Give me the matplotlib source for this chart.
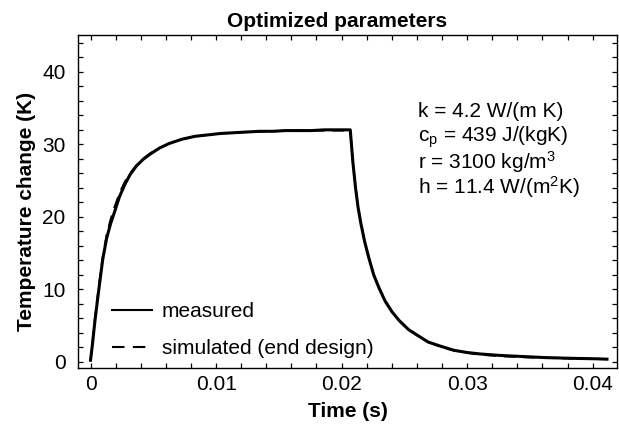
import matplotlib
matplotlib.use("Agg")
import matplotlib.pyplot as plt
from matplotlib.lines import Line2D
from matplotlib.ticker import MultipleLocator

# measured temperature change (heating then cooling)
time_meas = [0.0, 0.00014, 0.00025, 0.00035, 0.00056, 0.00076, 0.00097,
             0.00128, 0.00159, 0.00190, 0.00231, 0.00272, 0.00314, 0.00365,
             0.00417, 0.00479, 0.00551, 0.00624, 0.00727, 0.00830, 0.00933,
             0.01037, 0.01140, 0.01243, 0.01346, 0.01450, 0.01553, 0.01656,
             0.01760, 0.01863, 0.01966, 0.02069,
             0.02090, 0.02111, 0.02131, 0.02152, 0.02183, 0.02214, 0.02255,
             0.02297, 0.02348, 0.02400, 0.02462, 0.02534, 0.02606, 0.02689,
             0.02792, 0.02896, 0.02999, 0.03102, 0.03257, 0.03412, 0.03618,
             0.03825, 0.04031, 0.04114]
temp_meas = [0.2, 2.2, 4.0, 5.6, 8.6, 11.3, 14.1,
             17.0, 19.0, 20.6, 22.8, 24.4, 25.8, 27.0,
             27.9, 28.7, 29.5, 30.1, 30.7, 31.1, 31.3,
             31.5, 31.6, 31.7, 31.8, 31.8, 31.9, 31.9,
             31.9, 32.0, 32.0, 32.0,
             27.5, 24.0, 21.3, 19.2, 16.6, 14.5, 12.0,
             10.2, 8.3, 6.9, 5.6, 4.4, 3.6, 2.7,
             2.1, 1.55, 1.25, 1.05, 0.85, 0.72, 0.55,
             0.45, 0.38, 0.33]

# simulated (end design), nearly on top of the measurement
time_sim = [0.0, 0.00014, 0.00025, 0.00035, 0.00056, 0.00076, 0.00097,
            0.00128, 0.00159, 0.00190, 0.00231, 0.00272, 0.00314, 0.00365,
            0.00417, 0.00479, 0.00551, 0.00624, 0.00727, 0.00830, 0.00933,
            0.01037, 0.01243, 0.01450, 0.01656, 0.01863, 0.02069,
            0.02090, 0.02111, 0.02131, 0.02152, 0.02183, 0.02214, 0.02255,
            0.02297, 0.02348, 0.02400, 0.02462, 0.02534, 0.02606, 0.02689,
            0.02792, 0.02896, 0.02999, 0.03102, 0.03257, 0.03412, 0.03618,
            0.03825, 0.04031, 0.04114]
temp_sim = [0.0, 2.4, 4.3, 6.0, 9.0, 11.8, 14.5,
            17.5, 19.6, 21.3, 23.3, 24.8, 26.0, 27.1,
            28.0, 28.8, 29.5, 30.1, 30.7, 31.1, 31.3,
            31.5, 31.7, 31.8, 31.9, 31.9, 31.9,
            27.4, 24.0, 21.4, 19.3, 16.7, 14.6, 12.1,
            10.3, 8.4, 7.0, 5.6, 4.5, 3.6, 2.7,
            2.0, 1.5, 1.2, 0.95, 0.75, 0.62, 0.5,
            0.42, 0.36, 0.33]

params = ["k = 4.2 W/(m K)",
          "c$_{\\mathregular{p}}$ = 439 J/(kgK)",
          "r = 3100 kg/m$^{\\mathregular{3}}$",
          "h = 11.4 W/(m$^{\\mathregular{2}}$K)"]

plt.rcParams["font.family"] = ["Liberation Sans", "DejaVu Sans"]
plt.rcParams["mathtext.default"] = "regular"

FS = 15

fig = plt.figure(figsize=(6.19, 4.32), dpi=100)
ax = fig.add_axes([0.126, 0.148, 0.871, 0.771])

ax.plot(time_sim, temp_sim, color="black", lw=1.4, dashes=(6, 4))
ax.plot(time_meas, temp_meas, color="black", lw=2.2)

ax.set_xlim(-0.001, 0.04195)
ax.set_ylim(-0.9, 45.1)
ax.xaxis.set_major_locator(MultipleLocator(0.01))
ax.xaxis.set_minor_locator(MultipleLocator(0.002))
ax.yaxis.set_major_locator(MultipleLocator(10))
ax.yaxis.set_minor_locator(MultipleLocator(2))
ax.xaxis.set_major_formatter(plt.FuncFormatter(lambda v, p: f"{v:g}"))
ax.tick_params(which="both", direction="in", top=True, right=True,
               length=3.5, width=0.9, labelsize=FS)
ax.tick_params(axis="x", pad=5)
ax.tick_params(axis="y", pad=9)
for sp in ax.spines.values():
    sp.set_linewidth(1.0)

ax.set_xlabel("Time (s)", fontsize=FS, fontweight="bold", labelpad=6)
ax.set_ylabel("Temperature change (K)", fontsize=FS, fontweight="bold")
ax.yaxis.set_label_coords(-0.078, 0.47)
ax.set_title("Optimized parameters", fontsize=FS, fontweight="bold",
             pad=6, x=0.48)

for i, s in enumerate(params):
    ax.text(0.631, 0.769 - i * 0.075, s, transform=ax.transAxes,
            fontsize=FS, va="center", ha="left")

handles = [Line2D([], [], color="black", lw=1.5),
           Line2D([], [], color="black", lw=1.5, dashes=(6, 4))]
ax.legend(handles, ["measured", "simulated (end design)"], loc="lower left",
          bbox_to_anchor=(0.063, 0.03), frameon=False, fontsize=FS,
          borderpad=0, borderaxespad=0, handlelength=1.9, handletextpad=0.5,
          labelspacing=0.87)

fig.savefig("out.png", dpi=100)
